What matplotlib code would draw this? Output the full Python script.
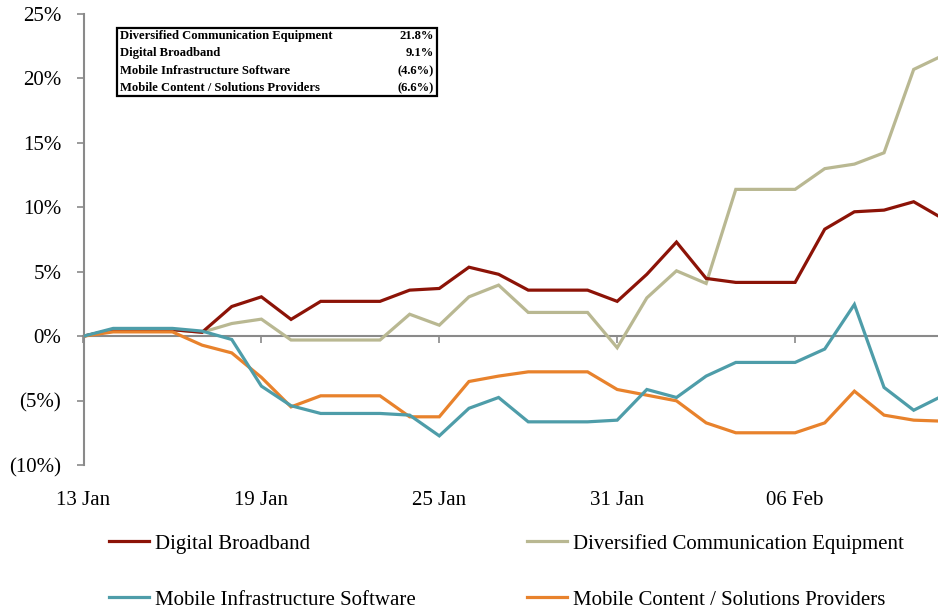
import numpy as np
import pandas as pd
import matplotlib
matplotlib.use('Agg')
import matplotlib.pyplot as plt
from matplotlib.patches import Rectangle

plt.rcParams['font.family'] = ['Liberation Serif', 'DejaVu Serif']

dates = pd.date_range('2014-01-13', periods=30, freq='D')

digital_broadband = [0.0, 0.5, 0.5, 0.5, 0.3, 2.3, 3.05, 1.3, 2.7, 2.7,
                     2.7, 3.57, 3.7, 5.35, 4.8, 3.57, 3.57, 3.57, 2.7, 4.8,
                     7.3, 4.48, 4.17, 4.17, 4.17, 8.3, 9.65, 9.78, 10.43, 9.1]
diversified_equipment = [0.0, 0.5, 0.5, 0.5, 0.3, 0.98, 1.32, -0.3, -0.3, -0.3,
                         -0.3, 1.7, 0.85, 3.05, 3.96, 1.84, 1.84, 1.84, -0.9, 2.97,
                         5.07, 4.09, 11.39, 11.39, 11.39, 13.0, 13.35, 14.23, 20.7, 21.8]
mobile_infra = [0.0, 0.6, 0.6, 0.6, 0.39, -0.26, -3.88, -5.4, -6.0, -6.0,
                -6.0, -6.13, -7.74, -5.6, -4.76, -6.65, -6.65, -6.65, -6.52, -4.14,
                -4.76, -3.1, -2.04, -2.04, -2.04, -1.0, 2.46, -3.98, -5.75, -4.6]
mobile_content = [0.0, 0.33, 0.33, 0.33, -0.7, -1.3, -3.2, -5.49, -4.63, -4.63,
                  -4.63, -6.26, -6.26, -3.52, -3.1, -2.77, -2.77, -2.77, -4.14, -4.58,
                  -5.02, -6.73, -7.5, -7.5, -7.5, -6.73, -4.27, -6.13, -6.52, -6.6]

table_names = ['Diversified Communication Equipment', 'Digital Broadband',
               'Mobile Infrastructure Software', 'Mobile Content / Solutions Providers']
table_values = ['21.8%', '9.1%', '(4.6%)', '(6.6%)']

series = [
    ('Digital Broadband', digital_broadband, '#8C1307'),
    ('Mobile Infrastructure Software', mobile_infra, '#4E9DA9'),
    ('Diversified Communication Equipment', diversified_equipment, '#B9B892'),
    ('Mobile Content / Solutions Providers', mobile_content, '#E8822C'),
]

fig = plt.figure(figsize=(9.38, 6.11), dpi=100)
ax = fig.add_axes([83.5 / 938, 146 / 611, 1 - 83.5 / 938, 451 / 611])

# draw order: khaki and red under, teal and orange on top
z = {'Digital Broadband': 2, 'Diversified Communication Equipment': 1,
     'Mobile Infrastructure Software': 4, 'Mobile Content / Solutions Providers': 3}
handles = []
for name, vals, col in series:
    h, = ax.plot(dates, vals, color=col, lw=2.3, label=name, zorder=z[name],
                 solid_joinstyle='miter')
    handles.append(h)

ymin, ymax = -10, 25
ax.set_ylim(ymin, ymax)
ax.set_xlim(dates[0], dates[0] + pd.Timedelta(days=28.82))
ax.set_yticks(np.arange(-10, 26, 5))
ax.set_yticklabels([f'{v}%' if v >= 0 else f'({-v}%)' for v in range(-10, 26, 5)],
                   fontsize=15)

grey = '#8A8A8A'
for s in ['top', 'right', 'bottom']:
    ax.spines[s].set_visible(False)
ax.spines['left'].set_color(grey)
ax.spines['left'].set_linewidth(1.5)
ax.tick_params(axis='y', direction='out', length=5, width=1.2, color=grey, pad=11)

xt = dates[::6][:5]
ax.set_xticks(xt)
ax.set_xticklabels([d.strftime('%d %b') for d in xt], fontsize=15)
ax.tick_params(axis='x', length=0, pad=19)

# zero line with small ticks
sec = ax.secondary_xaxis((0 - ymin) / (ymax - ymin))
sec.set_xticks(xt)
sec.tick_params(axis='x', direction='out', length=5, width=1.2, color=grey,
                labelbottom=False)
sec.spines['bottom'].set_color(grey)
sec.spines['bottom'].set_linewidth(1.5)
sec.set_zorder(0.5)

# summary box
fig.patches.append(Rectangle((117 / 938, 1 - 96 / 611), 320 / 938, 68 / 611,
                             transform=fig.transFigure, fill=False,
                             edgecolor='black', lw=1.6))
row_y = [36, 53, 71, 88]
for name, val, yy in zip(table_names, table_values, row_y):
    fig.text(120 / 938, 1 - yy / 611, name, fontsize=9.1, fontweight='bold',
             va='center', ha='left')
    fig.text(434 / 938, 1 - yy / 611, val, fontsize=9.1, fontweight='bold',
             va='center', ha='right')

fig.legend(handles=handles, labels=[h.get_label() for h in handles], ncol=2,
           loc='upper left', bbox_to_anchor=(90 / 938, 1 - 515 / 611),
           frameon=False, fontsize=15, handlelength=1.95, handletextpad=0.25,
           columnspacing=5.35, labelspacing=1.75)

fig.savefig('out.png', dpi=100, facecolor='w')
